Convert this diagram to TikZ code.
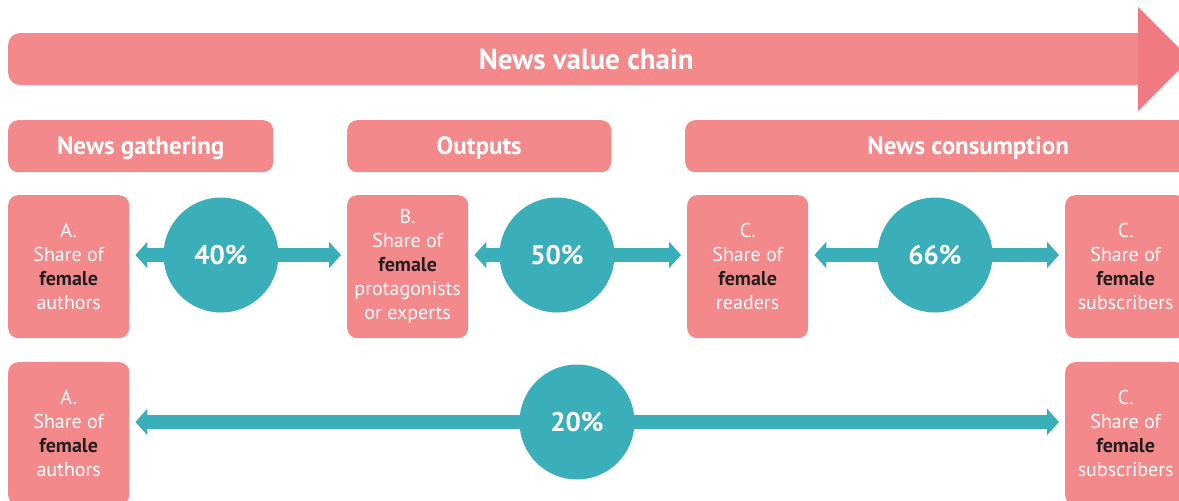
\documentclass[tikz,border=0pt]{standalone}
\usepackage{fontspec}
\setmainfont{PT Sans}
\usetikzlibrary{arrows.meta,backgrounds}
\definecolor{chainpink}{HTML}{F3898B}
\definecolor{chainhead}{HTML}{F07A82}
\definecolor{shareteal}{HTML}{3AAFB9}
\definecolor{femaledark}{HTML}{231F20}
\newcommand{\fem}{{\color{femaledark}\bfseries female}}

\begin{document}
\begin{tikzpicture}[x=1pt, y=-1pt,
  every node/.style = {text=white, align=center, inner sep=0pt},
  stage/.style = {fill=chainpink, rounded corners=10pt, minimum height=52pt,
    text height=17.5pt, text depth=0pt, anchor=north west,
    font=\bfseries\fontsize{25}{30}\selectfont},
  share/.style = {fill=chainpink, rounded corners=10pt, anchor=north west,
    minimum width=121pt, minimum height=143pt,
    font=\fontsize{20}{24}\selectfont},
  value/.style = {circle, fill=shareteal, minimum size=115pt,
    font=\bfseries\fontsize{27}{30}\selectfont},
  link/.style = {draw=shareteal, line width=14pt,
    {Triangle[width=26pt,length=12pt]}-{Triangle[width=26pt,length=12pt]},
    shorten <=6pt, shorten >=6pt}]
  \clip (0,0) rectangle (1179,501);
  % value chain arrow
  \node[fill=chainpink, rounded corners=12pt, minimum width=1156pt,
    minimum height=52pt, text height=20pt, text depth=0pt, anchor=west,
    font=\bfseries\fontsize{29}{32}\selectfont] (chain) at (8,59) {News value chain};
  \fill[chainhead] (1138,7) -- (1190,59) -- (1138,111) -- cycle;
  % stages
  \node[stage, minimum width=265pt] (gather) at (8,120) {News gathering};
  \node[stage, minimum width=264pt] (output) at (347,120) {Outputs};
  \node[stage, minimum width=566pt] (consume) at (685,120) {News consumption};
  % shares
  \node[share] (a1) at (8,195) {A.\\Share of\\\fem\\authors};
  \node[share] (b1) at (347,195) {B.\\Share of\\\fem\\protagonists\\or experts};
  \node[share] (c1) at (687,195) {C.\\Share of\\\fem\\readers};
  \node[share] (d1) at (1065,195) {C.\\Share of\\\fem\\subscribers};
  \node[share] (a2) at (8,362) {A.\\Share of\\\fem\\authors};
  \node[share] (d2) at (1065,362) {C.\\Share of\\\fem\\subscribers};
  % ratios
  \node[value] (p40) at (221,255) {40\%};
  \node[value] (p50) at (557,255) {50\%};
  \node[value] (p66) at (935,255) {66\%};
  \node[value] (p20) at (577,422) {20\%};
  \begin{scope}[on background layer]
    \draw[link] (a1.east |- p40) -- (b1.west |- p40);
    \draw[link] (b1.east |- p50) -- (c1.west |- p50);
    \draw[link] (c1.east |- p66) -- (d1.west |- p66);
    \draw[link] (a2.east |- p20) -- (d2.west |- p20);
  \end{scope}
\end{tikzpicture}
\end{document}
